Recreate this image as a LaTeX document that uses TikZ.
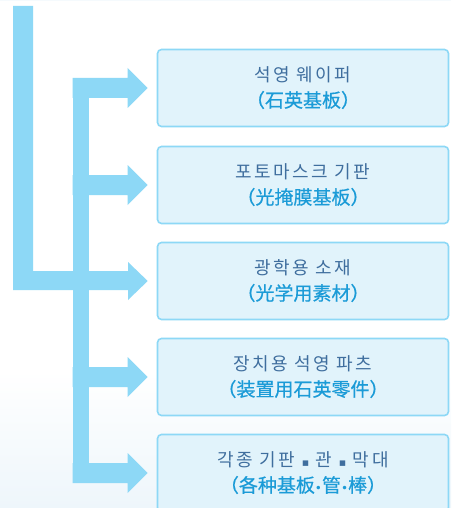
\documentclass[tikz,border=0pt]{standalone}
\usepackage{fontspec}
\newfontfamily\krfont[LetterSpace=14]{Noto Sans CJK KR}
\newfontfamily\zhfont[FakeBold=0.6]{Noto Sans CJK SC}
\newfontfamily\dvsfont{DejaVu Sans}
\definecolor{arrowblue}{HTML}{8DD8F6}
\definecolor{boxfill}{HTML}{E1F3FB}
\definecolor{krtext}{HTML}{3F6E9E}
\definecolor{zhtext}{HTML}{1B9BD7}
\definecolor{bgblue}{HTML}{EEF6FB}
\tikzset{
  itembox/.style={draw=arrowblue, line width=1.6pt, fill=boxfill, rounded corners=4pt,
    minimum width=291pt, minimum height=77pt, inner sep=0pt},
  krline/.style={font=\krfont\fontsize{18}{20}\selectfont, text=krtext, inner sep=0pt},
  zhline/.style={font=\zhfont\fontsize{19}{20}\selectfont, text=zhtext, inner sep=0pt},
  flow/.style={fill=arrowblue, draw=none}
}
\begin{document}
\begin{tikzpicture}[x=1pt,y=-1pt]
\useasboundingbox (0,0) rectangle (451,508);
\clip (0,0) rectangle (451,508);
\fill[white] (0,0) rectangle (451,508);
\shade[top color=white, bottom color=bgblue] (0,370) rectangle (451,508);
\fill[bgblue!60] (0,0) rectangle (451,1.5);
% boxes
\foreach \i/\c in {1/88,2/185,3/281,4/377,5/473}{
  \node[itembox] (b\i) at (303,\c) {};
}
% texts
\node[krline] (k1) at ([yshift=13pt]b1.center) {석영 웨이퍼};
\node[zhline] (z1) at ([yshift=-12pt]b1.center) {（石英基板）};
\node[krline] (k2) at ([yshift=13pt]b2.center) {포토마스크 기판};
\node[zhline] (z2) at ([yshift=-12pt]b2.center) {（光掩膜基板）};
\node[krline] (k3) at ([yshift=13pt]b3.center) {광학용 소재};
\node[zhline] (z3) at ([yshift=-12pt]b3.center) {（光学用素材）};
\node[krline] (k4) at ([yshift=13pt]b4.center) {장치용 석영 파츠};
\node[zhline] (z4) at ([yshift=-12pt]b4.center) {（装置用石英零件）};
\node[krline] (k5) at ([yshift=13pt]b5.center) {각종 기판 {\dvsfont\fontsize{11}{12}\selectfont ▪} 관 {\dvsfont\fontsize{11}{12}\selectfont ▪} 막대};
\node[zhline] (z5) at ([yshift=-12pt]b5.center) {（各种基板{\dvsfont\fontsize{12}{12}\selectfont •}管{\dvsfont\fontsize{12}{12}\selectfont •}棒）};
% L-shaped main arrow
\coordinate (t3) at ([xshift=-9pt]b3.west);
\fill[flow] (13,6) -- (33,6) -- (33,271) -- (128,271) -- (128,262) -- (t3)
  -- (128,300) -- (128,290) -- (13,290) -- cycle;
% branch bar
\fill[flow] (73,78) rectangle (89,483);
\foreach \i in {1,2,4,5}{
  \coordinate (t\i) at ([xshift=-9pt]b\i.west);
  \fill[flow] ([xshift=-75pt,yshift=10pt]t\i) -- ([xshift=-20pt,yshift=10pt]t\i)
    -- ([xshift=-20pt,yshift=20pt]t\i) -- (t\i) -- ([xshift=-20pt,yshift=-20pt]t\i)
    -- ([xshift=-20pt,yshift=-10pt]t\i) -- ([xshift=-75pt,yshift=-10pt]t\i) -- cycle;
}
\end{tikzpicture}
\end{document}
